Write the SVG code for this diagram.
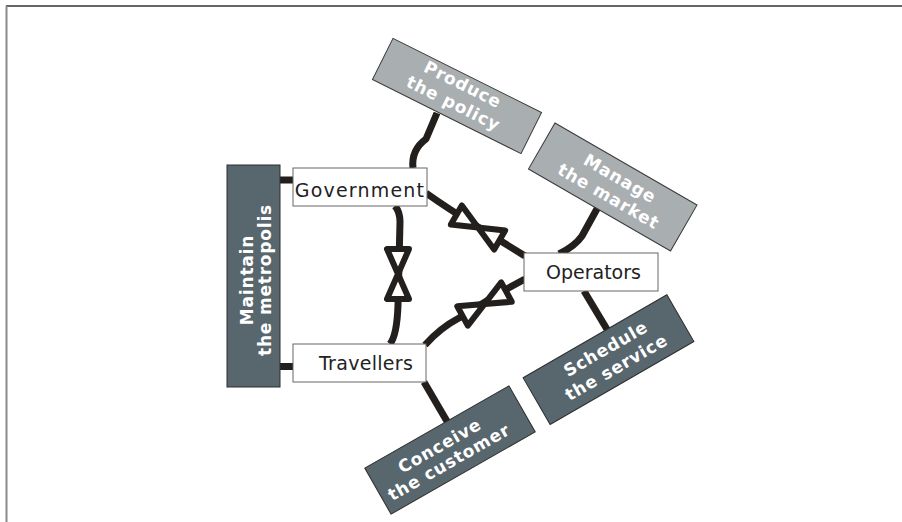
<svg xmlns="http://www.w3.org/2000/svg" width="902" height="522" viewBox="0 0 902 522">
  <defs>
    <style>
      .frame-top { stroke: #333; stroke-width: 1.5; fill: none; }
      .frame-left { stroke: #8a8a8a; stroke-width: 2; fill: none; }
      .box { fill: #ffffff; stroke: #666; stroke-width: 1; }
      .label { font-family: "DejaVu Sans", Verdana, sans-serif; font-size: 19px; fill: #222; }
      .role-light { fill: #a9aeb1; stroke: #3a3a3a; stroke-width: 1; }
      .role-dark { fill: #58666e; stroke: #2e2e2e; stroke-width: 1; }
      .role-text { font-family: "DejaVu Sans", Verdana, sans-serif; font-size: 17px; font-weight: bold; fill: #ffffff; letter-spacing: 0.8px; text-anchor: middle; }
      .link { fill: none; stroke: #231f1c; stroke-width: 7; stroke-linejoin: round; }
      .bar { fill: #231f1c; }
      .tie { fill: #ffffff; stroke: #231f1c; stroke-width: 6; stroke-linejoin: round; }
    </style>
    <!-- hourglass pair of triangles, drawn along the x axis -->
    <path id="bowtie" class="tie" d="M -25,-11 L 25,11 L 25,-11 L -25,11 Z"/>
  </defs>

  <rect width="902" height="522" fill="#ffffff"/>

  <!-- frame -->
  <line class="frame-top" x1="6" y1="6" x2="902" y2="6"/>
  <line class="frame-left" x1="6.5" y1="6" x2="6.5" y2="522"/>

  <!-- connectors -->
  <g id="connectors">
    <rect class="bar" x="280" y="176.5" width="13" height="7"/>
    <rect class="bar" x="280" y="363" width="13" height="7"/>
    <path class="link" d="M 437,113 L 426,139 Q 411,150 413,168"/>
    <path class="link" d="M 559,254 Q 575,246 582,236 L 598,207"/>
    <path class="link" d="M 584,291 L 608,331"/>
    <path class="link" d="M 424,382 L 448,423"/>
    <path class="link" d="M 395,206 Q 400,212 400,222 L 398,305 Q 397,335 390,344"/>
    <path class="link" d="M 426,193 C 440,203 460,216 478,227 S 515,250 525,256"/>
    <path class="link" d="M 525,279 L 503,291 L 459,318 Q 440,328 425,345"/>
    <use href="#bowtie" transform="translate(398,274) rotate(90)"/>
    <use href="#bowtie" transform="translate(478,227.5) rotate(30)"/>
    <use href="#bowtie" transform="translate(484.5,304) rotate(-28.5)"/>
  </g>

  <!-- actors -->
  <g id="government">
    <rect class="box" x="293" y="168" width="134" height="38"/>
    <text class="label" x="360" y="197" text-anchor="middle" letter-spacing="1.2">Government</text>
  </g>
  <g id="travellers">
    <rect class="box" x="293" y="344" width="133" height="38"/>
    <text class="label" x="319" y="370" letter-spacing="0.3">Travellers</text>
  </g>
  <g id="operators">
    <rect class="box" x="524" y="253" width="134" height="38"/>
    <text class="label" x="546" y="279">Operators</text>
  </g>

  <!-- roles -->
  <g id="maintain">
    <rect class="role-dark" x="227" y="165" width="53" height="222"/>
    <g transform="translate(261,280) rotate(-90)">
      <text class="role-text" x="0" y="-8" letter-spacing="0.3">Maintain</text>
      <text class="role-text" x="0" y="10" letter-spacing="0.3">the metropolis</text>
    </g>
  </g>
  <g id="produce" transform="translate(457,96) rotate(26.5)">
    <rect class="role-light" x="-83" y="-23" width="166" height="46"/>
    <text class="role-text" x="0" y="-7">Produce</text>
    <text class="role-text" x="0" y="14">the policy</text>
  </g>
  <g id="manage" transform="translate(612.75,187) rotate(30)">
    <rect class="role-light" x="-82" y="-26.5" width="164" height="53"/>
    <text class="role-text" x="2" y="-5">Manage</text>
    <text class="role-text" x="1" y="16">the market</text>
  </g>
  <g id="schedule" transform="translate(608.5,359.6) rotate(-30)">
    <rect class="role-dark" x="-83" y="-27" width="166" height="54"/>
    <text class="role-text" x="3" y="-5">Schedule</text>
    <text class="role-text" x="3" y="16.5">the service</text>
  </g>
  <g id="conceive" transform="translate(450,450) rotate(-29.7)">
    <rect class="role-dark" x="-83" y="-26.5" width="166" height="53"/>
    <text class="role-text" x="-7" y="-3">Conceive</text>
    <text class="role-text" x="-7" y="16">the customer</text>
  </g>
</svg>
